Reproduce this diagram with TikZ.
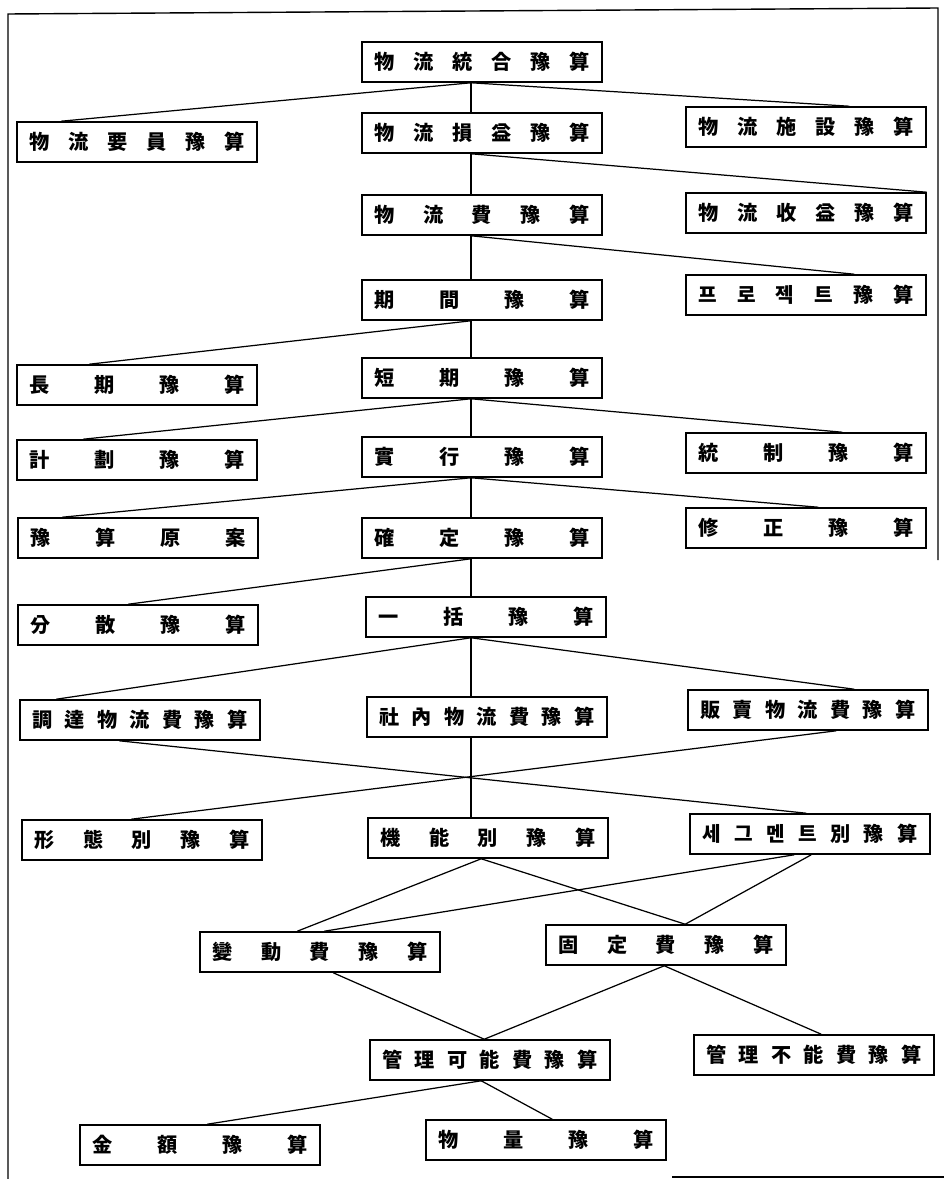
\documentclass[tikz,border=0pt]{standalone}
\usepackage{fontspec}
\newfontfamily\kr{Noto Sans CJK KR}
\usetikzlibrary{calc}

\begin{document}
\begin{tikzpicture}[
    x=0.02cm, y=-0.02cm,
    box/.style={draw, line width=0.9pt, minimum width=4.8cm, minimum height=0.8cm,
      inner sep=0pt, text width=4.3cm, font=\kr\bfseries\fontsize{11.5}{13}\selectfont},
    ln/.style={line width=0.7pt},
    ]
    \useasboundingbox (0,0) rectangle (944,1179);
    % --- frame ---
    \draw[line width=0.8pt] (8,1179) -- (8,14) -- (938,8) -- (938,560);
    \draw[line width=0.8pt] (672,1177) -- (944,1177);
    \coordinate (spine) at (471,0);
    % --- upper part ---
    \node[box] (tot) at (482,62) {物\hfill 流\hfill 統\hfill 合\hfill 豫\hfill 算};
    \node[box] (staff) at (137,142) {物\hfill 流\hfill 要\hfill 員\hfill 豫\hfill 算};
    \node[box] (pl) at (482,133) {物\hfill 流\hfill 損\hfill 益\hfill 豫\hfill 算};
    \node[box] (fac) at (806,127) {物\hfill 流\hfill 施\hfill 設\hfill 豫\hfill 算};
    \node[box] (cost) at (482,215) {物\hfill 流\hfill 費\hfill 豫\hfill 算};
    \node[box] (rev) at (806,213) {物\hfill 流\hfill 收\hfill 益\hfill 豫\hfill 算};
    \node[box] (per) at (482,300) {期\hfill 間\hfill 豫\hfill 算};
    \node[box] (proj) at (806,295) {프\hfill 로\hfill 젝\hfill 트\hfill 豫\hfill 算};
    \node[box] (lng) at (137,385) {長\hfill 期\hfill 豫\hfill 算};
    \node[box] (sht) at (482,378) {短\hfill 期\hfill 豫\hfill 算};
    \node[box] (plan) at (137,460) {計\hfill 劃\hfill 豫\hfill 算};
    \node[box] (exe) at (482,457) {實\hfill 行\hfill 豫\hfill 算};
    \node[box] (ctl) at (806,453) {統\hfill 制\hfill 豫\hfill 算};
    \node[box] (draft) at (138,538) {豫\hfill 算\hfill 原\hfill 案};
    \node[box] (fix) at (482,538) {確\hfill 定\hfill 豫\hfill 算};
    \node[box] (rvs) at (806,528) {修\hfill 正\hfill 豫\hfill 算};
    \node[box] (dist) at (138,625) {分\hfill 散\hfill 豫\hfill 算};
    \node[box] (lump) at (486,617) {一\hfill 括\hfill 豫\hfill 算};
    % --- lower part ---
    \node[box] (proc) at (140,720) {調\hfill 達\hfill 物\hfill 流\hfill 費\hfill 豫\hfill 算};
    \node[box] (inh) at (487,717) {社\hfill 內\hfill 物\hfill 流\hfill 費\hfill 豫\hfill 算};
    \node[box] (sale) at (808,710) {販\hfill 賣\hfill 物\hfill 流\hfill 費\hfill 豫\hfill 算};
    \node[box] (form) at (142,840) {形\hfill 態\hfill 別\hfill 豫\hfill 算};
    \node[box] (func) at (488,838) {機\hfill 能\hfill 別\hfill 豫\hfill 算};
    \node[box] (seg) at (810,834) {세\hfill 그\hfill 멘\hfill 트\hfill 別\hfill 豫\hfill 算};
    \node[box] (var) at (320,952) {變\hfill 動\hfill 費\hfill 豫\hfill 算};
    \node[box] (fxd) at (666,945) {固\hfill 定\hfill 費\hfill 豫\hfill 算};
    \node[box] (ctr) at (490,1060) {管\hfill 理\hfill 可\hfill 能\hfill 費\hfill 豫\hfill 算};
    \node[box] (unc) at (814,1055) {管\hfill 理\hfill 不\hfill 能\hfill 費\hfill 豫\hfill 算};
    \node[box] (amt) at (200,1145) {金\hfill 額\hfill 豫\hfill 算};
    \node[box] (qty) at (546,1140) {物\hfill 量\hfill 豫\hfill 算};
    % --- connectors ---
    \draw[ln] (tot.south -| spine) -- ($(staff.north west)+(45,0)$);
    \draw[ln] (tot.south -| spine) -- (pl.north -| spine);
    \draw[ln] (tot.south -| spine) -- ($(fac.north west)+(164,0)$);
    \draw[ln] (pl.south -| spine) -- (cost.north -| spine);
    \draw[ln] (pl.south -| spine) -- (rev.north east);
    \draw[ln] (cost.south -| spine) -- (per.north -| spine);
    \draw[ln] (cost.south -| spine) -- ($(proj.north west)+(169,0)$);
    \draw[ln] (per.south -| spine) -- ($(lng.north west)+(73,0)$);
    \draw[ln] (per.south -| spine) -- (sht.north -| spine);
    \draw[ln] (sht.south -| spine) -- ($(plan.north west)+(67,0)$);
    \draw[ln] (sht.south -| spine) -- (exe.north -| spine);
    \draw[ln] (sht.south -| spine) -- ($(ctl.north west)+(157,0)$);
    \draw[ln] (exe.south -| spine) -- ($(draft.north west)+(45,0)$);
    \draw[ln] (exe.south -| spine) -- (fix.north -| spine);
    \draw[ln] (exe.south -| spine) -- ($(rvs.north west)+(133,0)$);
    \draw[ln] (fix.south -| spine) -- ($(dist.north west)+(111,0)$);
    \draw[ln] (fix.south -| spine) -- (lump.north -| spine);
    \draw[ln] (lump.south -| spine) -- ($(proc.north west)+(37,0)$);
    \draw[ln] (lump.south -| spine) -- (inh.north -| spine);
    \draw[ln] (lump.south -| spine) -- ($(sale.north west)+(167,0)$);
    \draw[ln] ($(proc.south west)+(100,0)$) -- ($(seg.north west)+(117,0)$);
    \draw[ln] ($(sale.south west)+(149,0)$) -- ($(form.north west)+(110,0)$);
    \draw[ln] (inh.south -| spine) -- (func.north -| spine);
    \draw[ln] ($(func.south west)+(114,0)$) -- ($(var.north west)+(98,0)$);
    \draw[ln] ($(func.south west)+(114,0)$) -- ($(fxd.north west)+(140,0)$);
    \draw[ln] ($(seg.south west)+(105,0)$) -- ($(var.north west)+(125,0)$);
    \draw[ln] ($(seg.south west)+(122,0)$) -- ($(fxd.north west)+(140,0)$);
    \draw[ln] ($(var.south west)+(134,0)$) -- ($(ctr.north west)+(115,0)$);
    \draw[ln] ($(fxd.south west)+(119,0)$) -- ($(ctr.north west)+(115,0)$);
    \draw[ln] ($(fxd.south west)+(119,0)$) -- ($(unc.north west)+(128,0)$);
    \draw[ln] ($(ctr.south west)+(112,0)$) -- ($(amt.north west)+(128,0)$);
    \draw[ln] ($(ctr.south west)+(112,0)$) -- ($(qty.north west)+(127,0)$);
\end{tikzpicture}
\end{document}
